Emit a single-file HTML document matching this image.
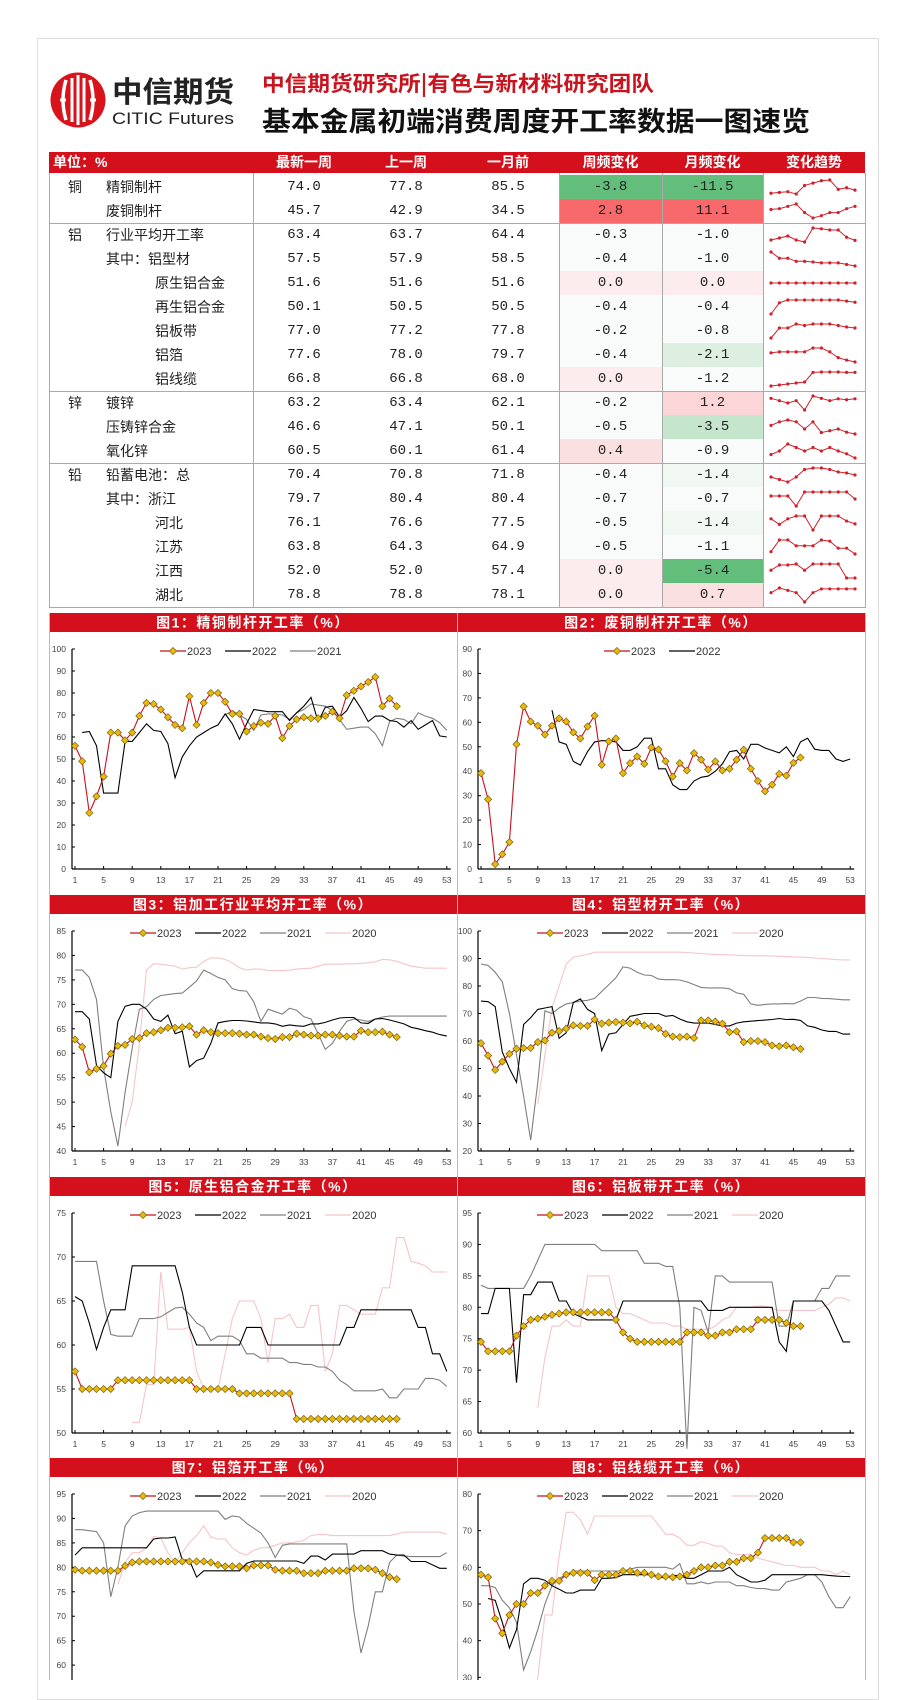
<!DOCTYPE html>
<html><head><meta charset="utf-8">
<style>
body{margin:0;width:915px;height:1680px;overflow:hidden;background:#fff;position:relative;font-family:"Liberation Sans","Noto Sans CJK SC",sans-serif;}
.abs{position:absolute;}
.cell{position:absolute;height:24px;line-height:24px;font-size:14px;color:#222;white-space:nowrap;}
.num{text-align:center;font-family:"Liberation Mono","Noto Sans CJK SC",monospace;font-size:14px;}
.hdr{position:absolute;top:152px;height:21px;line-height:21px;color:#fff;font-weight:bold;font-size:14px;text-align:center;font-family:"Liberation Sans","Noto Sans CJK SC",sans-serif;}
</style></head>
<body>
<div class="abs" style="left:37px;top:38px;width:840px;height:1660px;border:1px solid #ddd;"></div>

<svg class="abs" style="left:0;top:0" width="915" height="150">
  <g>
    <circle cx="78" cy="100" r="27.5" fill="#d7141b"/>
    <path d="M66 80 Q60 100 66 120 M90 80 Q96 100 90 120" stroke="#fff" stroke-width="3.5" fill="none"/>
    <path d="M72 78 V122 M78 75 V125 M84 78 V122" stroke="#fff" stroke-width="3" fill="none"/>
    <path d="M60 100 H66 M90 100 H96" stroke="#fff" stroke-width="3"/>
  </g>
  <text x="112" y="102" font-size="29" font-weight="bold" fill="#222" textLength="122" lengthAdjust="spacingAndGlyphs" font-family="Noto Sans CJK SC, sans-serif">中信期货</text>
  <text x="112" y="124" font-size="17" fill="#222" textLength="122" lengthAdjust="spacingAndGlyphs" font-family="Liberation Sans, sans-serif">CITIC Futures</text>
  <text x="262" y="91" font-size="21" font-weight="bold" fill="#c8141e" textLength="392" lengthAdjust="spacingAndGlyphs" font-family="Noto Sans CJK SC, sans-serif">中信期货研究所|有色与新材料研究团队</text>
  <text x="262" y="131" font-size="27" font-weight="bold" fill="#111" textLength="548" lengthAdjust="spacingAndGlyphs" font-family="Noto Sans CJK SC, sans-serif">基本金属初端消费周度开工率数据一图速览</text>
</svg>

<div id="table">
  <div class="abs" style="left:49px;top:152px;width:816px;height:21px;background:#d3101b;"></div>
  <div class="hdr" style="left:53px;text-align:left;">单位：%</div>
  <div class="hdr" style="left:253px;width:102px;">最新一周</div>
  <div class="hdr" style="left:355px;width:102px;">上一周</div>
  <div class="hdr" style="left:457px;width:102px;">一月前</div>
  <div class="hdr" style="left:559px;width:103px;">周频变化</div>
  <div class="hdr" style="left:662px;width:101px;">月频变化</div>
  <div class="hdr" style="left:763px;width:102px;">变化趋势</div>
</div>

<svg id="charts" class="abs" style="left:0;top:0" width="915" height="1680"></svg>

<script>
// ---------- table data ----------
const rowMetal = ['铜','','铝','','','','','','','锌','','','铅','','','','',''];
const rowNames = ['精铜制杆','废铜制杆','行业平均开工率','其中：铝型材','原生铝合金','再生铝合金','铝板带','铝箔','铝线缆','镀锌','压铸锌合金','氧化锌','铅蓄电池：总','其中：浙江','河北','江苏','江西','湖北'];
const rowIndent = [0,0,0,0,1,1,1,1,1,0,0,0,0,0,1,1,1,1];
const latest = ['74.0','45.7','63.4','57.5','51.6','50.1','77.0','77.6','66.8','63.2','46.6','60.5','70.4','79.7','76.1','63.8','52.0','78.8'];
const prevWeek = ['77.8','42.9','63.7','57.9','51.6','50.5','77.2','78.0','66.8','63.4','47.1','60.1','70.8','80.4','76.6','64.3','52.0','78.8'];
const monthAgo = ['85.5','34.5','64.4','58.5','51.6','50.5','77.8','79.7','68.0','62.1','50.1','61.4','71.8','80.4','77.5','64.9','57.4','78.1'];
const weekChg = ['-3.8','2.8','-0.3','-0.4','0.0','-0.4','-0.2','-0.4','0.0','-0.2','-0.5','0.4','-0.4','-0.7','-0.5','-0.5','0.0','0.0'];
const monthChg = ['-11.5','11.1','-1.0','-1.0','0.0','-0.4','-0.8','-2.1','-1.2','1.2','-3.5','-0.9','-1.4','-0.7','-1.4','-1.1','-5.4','0.7'];
const spark = [
 [70,71,72,69,80,83,86,87,75,77,74],
 [42,43,46,49,38,31,34,38,38,43,46],
 [63.5,64,64.5,63.5,63,66.5,66.3,66,66,64.2,63.4],
 [62,60,60,59,59,58.8,58.5,58.5,58.5,58,57.5],
 [51.6,51.6,51.6,51.6,51.6,51.6,51.6,51.6,51.6,51.6,51.6],
 [48,50,50.5,50.5,50.5,50.5,50.5,50.5,50.5,50.3,50.1],
 [75,77,77,77.8,77.5,77.8,77.8,77.8,77.5,77.2,77],
 [79.5,79.7,79.7,79.7,79.7,80.5,80.5,79.7,78.5,78,77.6],
 [60,60.5,61,61.5,62,66.8,67,67,67,66.8,66.8],
 [63.5,63,62.5,63,61,64,63.5,63,63.4,63.2,63.4],
 [49,50,50.5,50,48,50,47,47.5,48,47.1,46.6],
 [60,60.5,61.5,61,60.5,61,60.5,61,60.5,60.1,59.5],
 [70,69.5,69,70,71.5,71.8,71.8,71.5,71,70.8,70.4],
 [80,80,80,79,80.4,80.4,80.4,80.4,80.4,80.4,79.7],
 [77,76,77,77.5,77.5,75,77.5,77.5,77.5,76.6,76.1],
 [64,65,65,64.5,64.5,64.5,65,64.9,64.3,64.3,63.8],
 [55,57,57,57.4,55,57.4,57.4,57.4,57.4,52,52],
 [78,79,78.5,78,76,78,78.8,78.8,78.8,78.8,78.8]
];
function chgBg(v){
  if(v<=-3.7) return '#63be7b';
  if(v>=2.5) return '#f8696b';
  if(v<=-3) return '#c5e6cd';
  if(v<=-2) return '#dcefe1';
  if(v<=-1.3) return '#f1f8f3';
  if(v<0) return '#f9fbfa';
  if(v>=1) return '#fbd5d8';
  if(v>=0.3) return '#fbe0e2';
  return '#fcecee';
}
const tbl=document.getElementById('table');
const RT=175,RH=24;
for(let i=0;i<rowNames.length;i++){
  const y=RT+i*RH;
  const m=document.createElement('div');m.className='cell';m.style.left='68px';m.style.top=y+'px';m.textContent=rowMetal[i];
  
  
  tbl.appendChild(m);
  const n=document.createElement('div');n.className='cell';n.style.left=(rowIndent[i]?155:106)+'px';n.style.top=y+'px';n.textContent=rowNames[i];
  
  
  tbl.appendChild(n);
  const vals=[latest[i],prevWeek[i],monthAgo[i]];
  const xs=[253,355,457];
  for(let k=0;k<3;k++){
    const c=document.createElement('div');c.className='cell num';c.style.left=xs[k]+'px';c.style.width='102px';c.style.top=y+'px';c.textContent=vals[k];
    
    
    tbl.appendChild(c);
  }
  const w=document.createElement('div');w.className='cell num';w.style.left='559px';w.style.width='103px';w.style.top=y+'px';w.style.background=chgBg(parseFloat(weekChg[i]));w.textContent=weekChg[i];
  
  
  tbl.appendChild(w);
  const mo=document.createElement('div');mo.className='cell num';mo.style.left='662px';mo.style.width='101px';mo.style.top=y+'px';mo.style.background=chgBg(parseFloat(monthChg[i]));mo.textContent=monthChg[i];
  
  
  tbl.appendChild(mo);
}
function line(x1,y1,x2,y2,c){const d=document.createElement('div');d.className='abs';
 if(y1===y2){d.style.left=x1+'px';d.style.top=y1+'px';d.style.width=(x2-x1)+'px';d.style.height='1px';}
 else{d.style.left=x1+'px';d.style.top=y1+'px';d.style.width='1px';d.style.height=(y2-y1)+'px';}
 d.style.background=c||'#aaa';
 
 
 tbl.appendChild(d);}
const tb=RT+18*RH;
[49,253,559,662,763,865].forEach(x=>line(x,173,x,tb));
[2,9,12].forEach(r=>line(49,RT+r*RH,865,RT+r*RH));
line(49,tb,866,tb);

// ---------- chart data ----------
const xTicks=[1,5,9,13,17,21,25,29,33,37,41,45,49,53];
const legendNames=['2023','2022','2021','2020'];
const c1_2023=[56,49,25.5,33,42,62,62,58.5,62,69.6,75.5,75,72.5,69,65.5,64,78.5,65.5,75.5,80,80,76,70.5,70.5,62.5,65,66.5,66,69.6,59.5,65,68,69,68.5,68.5,69.6,71.5,68.5,79,81,83,85,87.3,74,77.5,74];
const c1_2022=[null,62,62.5,56,34.5,34.5,34.5,58,58,62,66,63,62.5,57,41.5,51,56,60,62,64,65.5,70.5,66,59,66,72.5,72,71.5,71.5,71.5,67.5,71,74,78,67,73.5,74,69,72,78,73,67,69.5,69.5,67.5,67,64.5,67.5,63.5,65.5,67.5,60.5,60];
const c1_2021=[70,72,70,68,63,70,70.5,70.5,70,68,71,72.5,75,74.5,74,72,68,63.5,64,64.5,64.5,61.5,56,67,68.5,68,66,71,69.5,68.5,66.5,63];
const c2_2023=[39.2,28.5,2,6,11,51,66.5,60.3,58.6,55,58.6,61.6,60.3,55.9,53.4,58.3,62.7,42.6,52.2,53.4,39.2,43.3,46,43,49.7,48.9,44.1,37.8,43.3,40.3,47.4,44.7,40.7,44,40.3,41,44.7,48.8,41,36,31.8,34.5,38.9,38.2,43.4,45.6];
const c2_2022=[65,52,51,44,42.5,48,52,52.5,52.5,52,48.5,48.5,50,53.5,53.5,41,41,34.5,32.5,32.5,36,37.5,38,40,43,48,48.5,45,51,51,49.5,48.5,47.5,50,46,52,53.5,49,48.5,48.5,45,44,45];
const c3_2023=[62.8,61.3,56.1,56.8,57.4,59.9,61.5,61.7,62.9,63.1,64.1,64.3,64.7,65.2,65.2,65.3,65.5,63.8,64.7,64.3,64.1,64.1,64.1,64,63.8,63.8,63.4,63.1,62.9,63.3,63.3,64,63.8,63.6,63.6,63.8,63.8,63.6,63.4,63.4,64.6,64.3,64.3,64.4,63.8,63.3];
const c3_2022=[68.5,68.5,67,57.5,56,55,66.5,69.6,70,70,69,67,66.5,67.8,64,64.5,57.2,58.5,59,62,66.2,66.5,66.7,66.7,66.6,66.4,66.2,66.2,66,65.5,65.8,65.6,65.5,66,66,66.3,66.8,67.2,67.3,67.3,66.2,66.1,67,67.1,66.8,66.4,66,65.3,65,64.6,64.3,63.8,63.5];
const c3_2021=[77,77,75.5,71,57,48,41,52,61,69,69.5,71,71.8,72,72.2,72.3,73.5,74.8,77,76.3,75.5,75,73.2,72.8,72.7,70.5,66.5,69,68.5,68,69.2,68.8,67.5,67,64,60.8,62,64.5,66.5,67,66.8,66.5,67,67.4,67.6,67.6,67.6,67.6,67.6,67.6,67.6,67.6,67.6];
const c3_2020=[45,50,62,77,78.3,78.2,78,77.8,77.2,77.5,77.6,78.8,79.5,79.5,79.2,78.5,77.5,77,77.2,77.2,76.9,76.9,76.9,77,77.2,77.3,77.4,77.8,78.2,78.2,78.2,78.3,78.3,78.4,78.5,78.7,79.2,79.1,78.8,78.3,77.8,77.6,77.4,77.4,77.4,77.4];
const c4_2023=[59.2,54.7,49.5,52.5,55.3,57.2,57.4,57.5,59.6,60.2,63,63.6,64.5,65.7,65.5,65.5,67.8,66.3,66.7,66.9,66.7,66.4,67,65.7,65.2,64.7,62.6,61.6,61.4,61.6,61.1,67.5,67.5,67.1,66.3,63.2,63.5,59.6,60,60,59.6,58.4,58.1,58.4,57.7,57.1];
const c4_2022=[74.5,74.3,72.5,56,50,45,66,68.5,71.5,72,72.5,61,63,74,75.3,71.5,70,56.5,62.5,63,66,69,69.5,70,70,70,69,69.3,68,67,66.5,66.5,66.5,66,65.5,65.5,66.5,67,67.2,67.4,67.6,67.8,68.2,67.8,67.9,67.5,65.5,65,64,63.5,63.5,62.5,62.5];
const c4_2021=[88,87.5,85,81.5,70,55,40,24,45,71,70,72,73.5,74,74.5,74.8,75.5,78,80.5,83,87,86.5,85,84,83.8,82.5,82.3,82.3,82.2,81.5,80.5,79.5,79.3,79.3,79.3,79,77.5,77,73.5,73,73.3,73.5,73.5,73.6,73.5,74.5,75.8,75.8,75.5,75.4,75.2,75,75];
const c4_2020=[37,55,72,80,88,90.5,91,91.5,92.3,92.3,92.3,92.3,92.3,92.3,92.3,92.3,92.3,92.3,92.3,92.3,92.3,92.2,92,91.8,91.6,91.5,91.4,91.3,91.2,91.1,91,91,91,90.9,90.8,90.7,90.6,90.5,90.4,90.2,90,89.8,89.6,89.5,89.5];
const c5_2023=[57,55,55,55,55,55,56,56,56,56,56,56,56,56,56,56,56,55,55,55,55,55,55,54.5,54.5,54.5,54.5,54.5,54.5,54.5,54.5,51.6,51.6,51.6,51.6,51.6,51.6,51.6,51.6,51.6,51.6,51.6,51.6,51.6,51.6,51.6];
const c5_2022=[65.5,65,62.5,59.5,62,64,64,64,69,69,69,69,69,69,69,66,62,60,60,60,60,60,60,60,62,62,62,60,60,60,60,60,60,60,60,60,60,60,62,62,64,64,64,64,64,64,64,64,62,62,59,59,57];
const c5_2021=[69.5,69.5,69.5,69.5,65,61.2,61,61,61,63,63,63,63.2,63.7,64.2,64.3,63.5,62.5,62,60.5,61,61,61,60.5,59,59,58.5,58.5,58.5,58.5,58,58,57.8,57.8,57.5,57.5,57,56,55.5,54.8,54.8,54.8,54.8,55,54,54,55,55,55,56.2,56.2,56,55.3];
const c5_2020=[51.2,51.2,55.5,55.5,68.3,61.8,61.8,61.8,62,57,55,55,55,59,63,65,65,65,63,58,63,63,63.5,62,62,64.5,64.5,57,59,64.5,64.5,64,63.5,63.5,63.5,66.5,66.5,72.2,72.2,69.5,69.3,69,68.3,68.3,68.3];
const c6_2023=[74.5,73,73,73,73,75.5,77,78,78.2,78.5,78.8,79,79.2,79.2,79.2,79.2,79.2,79.2,79.2,78,76,75,74.5,74.5,74.5,74.5,74.5,74.5,74.5,76,76,76,75.5,75.5,76,76,76.5,76.5,76.5,78,78,78,78,77.5,77,77];
const c6_2022=[79,79,83,83,83,68,82,82,84,84,84,81,81,79,78.5,78,78,78,78,78,81,81,81,81,81,81,81,81,81,81,81,81,79.5,79.5,79.5,80,80,80,80,80,80,80,74.5,73,81,81,81,81,81,79.5,77,74.5,74.5];
const c6_2021=[83.5,83,83,83,83,83,83,85,87.5,90,90,90,90,90,90,90,90,89,89,89,89,89,89,87,87,87,86.5,86.5,80,57.5,80,79.5,76,85,85,84,84,84,84,84,84,84,77,77,81,81,81,81,83,83,85,85,85];
const c6_2020=[64,72,77,77,78,77,77,85,85,85,85,80,79,79,78.5,78,77.5,77.5,77.5,77,77,76.5,76.5,76.5,76.5,77,78,78.5,80,80,80,80.2,80.2,79.8,79.5,79.5,79.5,79.5,79.5,79.5,80,80.5,81.5,81.5,81];
const c7_2023=[79.5,79.3,79.3,79.3,79.3,79.3,79.3,80.3,81,81.2,81.2,81.2,81.2,81.2,81.2,81.2,81.2,81.2,81.2,81,80.5,80.2,80.2,80.2,79.8,80.4,80.4,80.4,79.5,79.3,79.3,79.3,78.8,78.8,78.8,79.3,79.3,79.3,79.3,79.8,79.8,79.8,79.5,78.8,78,77.6];
const c7_2022=[82.5,84,84,84,84,84,84,84,84,84,84,85.8,86,86,86.2,81.5,81.5,78,79.3,79.3,79.3,79.3,79.3,79.3,80.8,81.3,81.3,81.3,81.3,81.3,81.3,81.3,80.8,82.3,82.3,81.5,82.7,82.7,82.7,82.7,83.4,83.4,83.4,83.4,82.7,82.5,82.5,81.2,81.2,81.2,80.5,79.8,79.8];
const c7_2021=[87.7,87.7,87.5,87.3,85,74,80,88.5,90.5,91.2,91.5,91.5,91.5,91.5,91.5,91.5,91.5,91.5,91.5,91.5,91.5,89.8,90.5,90.3,89,88,87,85,82,84.5,84.8,84.8,84.8,84.8,84.8,84.8,84.8,84.8,84.8,71,62.5,68,75,75,81,82.5,82.3,82.2,82.2,82.2,82.2,82.2,83];
const c7_2020=[76.5,81,83,83,84,86.3,86,83,81,83,85,86.5,88.5,86.2,85.8,85.8,84,83,82.5,83.5,84,84,84.5,85,85,85.2,85.5,86.5,86.7,86.7,86.5,86.5,86.5,86.5,86.5,86.5,86.5,86.5,86.5,86.8,87.2,87.2,87.2,87.2,87.2,87.2,86.8];
const c8_2023=[58,57.3,46,42,47,50,50,53,53,55,56.3,56.3,58,58.5,58.5,58.5,56.5,58,58,58,59,59,58.5,58.5,58,57.5,57.5,57.3,57.5,58,59,60,60,60.5,60.5,61.5,61.5,62.5,62.5,64,68,68,68,68,66.8,66.8];
const c8_2022=[51.5,51,45,38,43,55.5,57,57,56.5,55,54,53,53,53.8,53.8,53.8,57,57,57.2,58,58,58,58,58,57.2,57.2,57.8,57.8,57,57,58,59,59,59,60,58,57,56,56,56.5,58,58,58,58,58,58,58,58,57.8,57.6,57.5,57.5];
const c8_2021=[55,55,54.5,51,49,45,32,37,43,50,55,57,58,59,59,59,59,59,59,59,59,59.5,60,60,60,60,60,59.5,61,55.5,55.5,56,55.5,56,56,56,55,55,54.5,54.2,54.2,53.8,53.8,56,56.5,57,58,58,56,52,49,49,52];
const c8_2020=[20,30,47,47,63,75,75,73,69,74,74,74,74,74,74,74,74,74,71.5,69,69,68,66,66,67,66.5,65.8,65.8,64,63.5,63.5,63.5,62.5,62,61.5,61,60.5,60.5,60,60,60,59,59,58,59,58];

// ---------- drawing ----------
const NS='http://www.w3.org/2000/svg';
const svg=document.getElementById('charts');
function el(tag,attrs,parent){const e=document.createElementNS(NS,tag);for(const k in attrs)e.setAttribute(k,attrs[k]);(parent||svg).appendChild(e);return e;}
const STY={'2023':{c:'#c8101e',w:1.1},'2022':{c:'#000',w:1.1},'2021':{c:'#7f7f7f',w:1.1},'2020':{c:'#f5c5ca',w:1.1}};
const charts=[
 {t:'图1：精铜制杆开工率（%）',col:0,row:0,min:0,max:100,step:10,s:[['2023',c1_2023,1],['2022',c1_2022,1],['2021',c1_2021,22]],lx:160},
 {t:'图2：废铜制杆开工率（%）',col:1,row:0,min:0,max:90,step:10,s:[['2023',c2_2023,1],['2022',c2_2022,11]],lx:604},
 {t:'图3：铝加工行业平均开工率（%）',col:0,row:1,min:40,max:85,step:5,s:[['2023',c3_2023,1],['2022',c3_2022,1],['2021',c3_2021,1],['2020',c3_2020,8]],lx:130},
 {t:'图4：铝型材开工率（%）',col:1,row:1,min:20,max:100,step:10,s:[['2023',c4_2023,1],['2022',c4_2022,1],['2021',c4_2021,1],['2020',c4_2020,9]],lx:537},
 {t:'图5：原生铝合金开工率（%）',col:0,row:2,min:50,max:75,step:5,s:[['2023',c5_2023,1],['2022',c5_2022,1],['2021',c5_2021,1],['2020',c5_2020,9]],lx:130},
 {t:'图6：铝板带开工率（%）',col:1,row:2,min:60,max:95,step:5,s:[['2023',c6_2023,1],['2022',c6_2022,1],['2021',c6_2021,1],['2020',c6_2020,9]],lx:537},
 {t:'图7：铝箔开工率（%）',col:0,row:3,min:50,max:95,step:5,s:[['2023',c7_2023,1],['2022',c7_2022,1],['2021',c7_2021,1],['2020',c7_2020,7]],lx:130},
 {t:'图8：铝线缆开工率（%）',col:1,row:3,min:20,max:80,step:10,s:[['2023',c8_2023,1],['2022',c8_2022,2],['2021',c8_2021,1],['2020',c8_2020,8]],lx:537}
];
const rowTop=[613,895,1177,1458];
// panel frame lines
[49,457,865].forEach(x=>{const l=el('line',{x1:x+0.5,y1:613,x2:x+0.5,y2:1680,stroke:'#bbb','stroke-width':1});
 
 });
charts.forEach((c,ci)=>{
  const g=el('g',{});
  
  
  const px=c.col?457:49, T=rowTop[c.row];
  const bar=el('rect',{x:px+1,y:T,width:407,height:19,fill:'#d3101b'},g);
  
  
  const tt=el('text',{x:px+204,y:T+14.5,'text-anchor':'middle','font-size':14,'font-weight':'bold',fill:'#fff','font-family':'Liberation Sans, Noto Sans CJK SC, sans-serif','letter-spacing':'1.5'},g);
  tt.textContent=c.t;
  
  
  const top=T+36, h=220;
  const x1=c.col?481:75, dx=c.col?7.1:7.15;
  const X=w=>x1+(w-1)*dx;
  const Y=v=>top+(c.max-v)/(c.max-c.min)*h;
  const ax=x1-3;
  const ya=el('line',{x1:ax,y1:top,x2:ax,y2:top+h,stroke:'#000','stroke-width':1.2},g);
  
  
  const xa=el('line',{x1:ax,y1:top+h,x2:X(53)+4,y2:top+h,stroke:'#000','stroke-width':1.2},g);
  
  
  for(let v=c.min;v<=c.max+1e-9;v+=c.step){
    el('line',{x1:ax,y1:Y(v),x2:ax+3,y2:Y(v),stroke:'#000','stroke-width':1},g);
    const tl=el('text',{x:ax-6,y:Y(v)+3,'text-anchor':'end','font-size':8.5,fill:'#444'},g);
    tl.textContent=v;
    
    
  }
  xTicks.forEach(w=>{
    el('line',{x1:X(w),y1:top+h,x2:X(w),y2:top+h-3,stroke:'#000','stroke-width':1},g);
    const tl=el('text',{x:X(w),y:top+h+14,'text-anchor':'middle','font-size':8.5,fill:'#444'},g);
    tl.textContent=w;
    
    
  });
  // series, draw oldest first
  const ordered=c.s.slice().reverse();
  ordered.forEach(([name,arr,start])=>{
    const st=STY[name];
    let d='';let pen=false;
    arr.forEach((v,i)=>{ if(v===null){pen=false;return;} const w=start+i; d+=(pen?'L':'M')+X(w).toFixed(1)+' '+Y(v).toFixed(1)+' '; pen=true;});
    const p=el('path',{d:d,fill:'none',stroke:st.c,'stroke-width':st.w},g);
    
    
    if(name==='2023'){
      arr.forEach((v,i)=>{ if(v===null)return; const cx=X(start+i),cy=Y(v);
        const m=el('path',{d:`M${cx} ${cy-3.6}L${cx+3.6} ${cy}L${cx} ${cy+3.6}L${cx-3.6} ${cy}Z`,fill:'#e8b90c',stroke:'#6b5300','stroke-width':0.6},g);
        
        
      });
    }
  });
  // legend
  c.s.forEach(([name],k)=>{
    const lx=c.lx+k*65, ly=top+2;
    const st=STY[name];
    const ll=el('line',{x1:lx,y1:ly,x2:lx+26,y2:ly,stroke:st.c,'stroke-width':1.3},g);
    
    
    if(name==='2023'){const m=el('path',{d:`M${lx+13} ${ly-3.6}L${lx+16.6} ${ly}L${lx+13} ${ly+3.6}L${lx+9.4} ${ly}Z`,fill:'#e8b90c',stroke:'#6b5300','stroke-width':0.6},g);
      
      }
    const lt=el('text',{x:lx+27,y:ly+4,'font-size':11,fill:'#333'},g);
    lt.textContent=legendNames[legendNames.indexOf(name)];
    
    
  });
});
// sparklines
spark.forEach((arr,i)=>{
  const mn=Math.min(...arr),mx=Math.max(...arr);
  const cy=RT+i*RH+12;
  const SX=k=>771+k*8.4;
  const SY=v=>mx===mn?cy:cy+7-(v-mn)/(mx-mn)*14;
  const g=el('g',{});
  
  
  el('path',{d:arr.map((v,k)=>(k?'L':'M')+SX(k).toFixed(1)+' '+SY(v).toFixed(1)).join(' '),fill:'none',stroke:'#d0202a','stroke-width':1},g);
  arr.forEach((v,k)=>el('circle',{cx:SX(k),cy:SY(v),r:1.6,fill:'#d0202a'},g));
});
</script>
</body></html>
